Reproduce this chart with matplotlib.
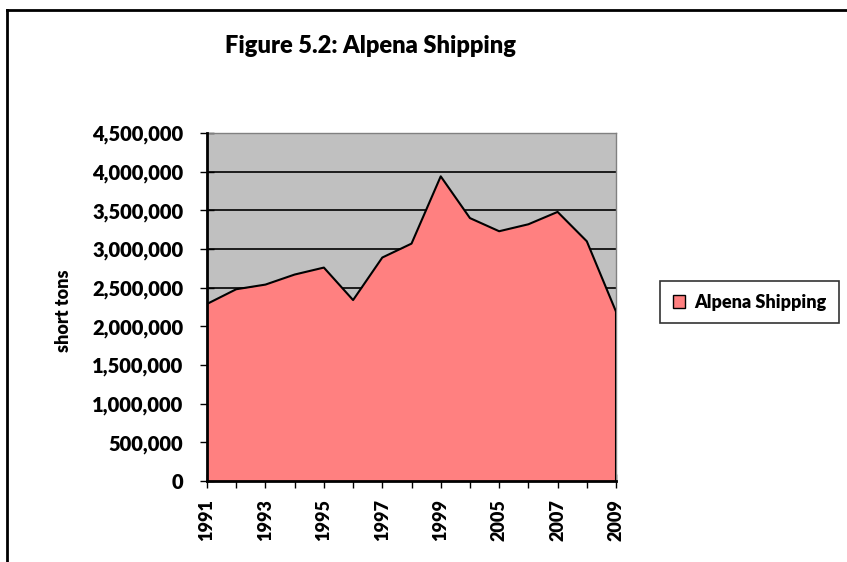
import numpy as np
import matplotlib.pyplot as plt
from matplotlib.lines import Line2D
from matplotlib.patches import Patch
from matplotlib.ticker import FuncFormatter

plt.rcParams['font.family'] = ['Lato', 'DejaVu Sans']
plt.rcParams['font.weight'] = 'bold'

# years on the category axis (only every other one is labelled)
years = ['1991', '1992', '1993', '1994', '1995', '1996', '1997', '1998',
         '1999', '2000', '2005', '2006', '2007', '2008', '2009']
tick_labels = ['1991', '', '1993', '', '1995', '', '1997', '', '1999', '',
               '2005', '', '2007', '', '2009']
# short tons shipped
tons = [2290000, 2480000, 2540000, 2670000, 2760000, 2340000, 2890000, 3070000,
        3940000, 3400000, 3230000, 3320000, 3480000, 3100000, 2190000]

fig = plt.figure(figsize=(8.47, 5.62), dpi=100)
ax = fig.add_axes([0.2444, 0.1441, 0.4829, 0.6192])

x = np.arange(len(years))
ax.set_facecolor('#C0C0C0')
ax.fill_between(x, 0, tons, color='#FF8080', zorder=2, linewidth=0)
ax.plot(x, tons, color='black', linewidth=1.5, zorder=3)
ax.plot([x[-1], x[-1]], [0, tons[-1]], color='black', linewidth=1.5, zorder=3)

ax.set_xlim(0, len(years) - 1)
ax.set_ylim(0, 4500000)
ax.set_yticks(np.arange(0, 4500001, 500000))
ax.yaxis.set_major_formatter(FuncFormatter(lambda v, p: f'{int(v):,}'))
ax.grid(axis='y', color='black', linewidth=1.2, zorder=1)
ax.set_axisbelow(True)

ax.set_xticks(x)
ax.set_xticklabels(tick_labels, rotation=90, fontsize=13, fontweight='heavy')
ax.tick_params(axis='y', labelsize=14.5, direction='inout', length=10, width=1, pad=12)
ax.tick_params(axis='x', direction='inout', length=10, width=1, pad=8)
for lab in ax.get_yticklabels():
    lab.set_fontweight('heavy')

for s in ['top', 'right']:
    ax.spines[s].set_color('#808080')
    ax.spines[s].set_linewidth(1)
for s in ['left', 'bottom']:
    ax.spines[s].set_color('black')
    ax.spines[s].set_linewidth(2)
    ax.spines[s].set_zorder(4)

ax.set_ylabel('short tons', fontsize=13, fontweight='heavy')
ax.yaxis.set_label_coords(-0.33, 0.49)

fig.text(0.437, 0.918, 'Figure 5.2: Alpena Shipping', ha='center', va='center',
         fontsize=17, fontweight='heavy')

leg = fig.legend(handles=[Patch(facecolor='#FF8080', edgecolor='black', label='Alpena Shipping')],
                 loc='center', bbox_to_anchor=(0.885, 0.462), frameon=True, fancybox=False,
                 fontsize=13, handlelength=0.7, handleheight=0.7, borderpad=0.7,
                 handletextpad=0.5, borderaxespad=0)
leg.get_frame().set_edgecolor('black')
leg.get_frame().set_linewidth(1.2)
for t in leg.get_texts():
    t.set_fontweight('heavy')

# chart frame
fig.add_artist(Line2D([0.008, 1.0], [1 - 10 / 562, 1 - 10 / 562], color='black', linewidth=2))
fig.add_artist(Line2D([0.008, 0.008], [0, 1 - 10 / 562], color='black', linewidth=2))

fig.savefig('out.png', dpi=100)
